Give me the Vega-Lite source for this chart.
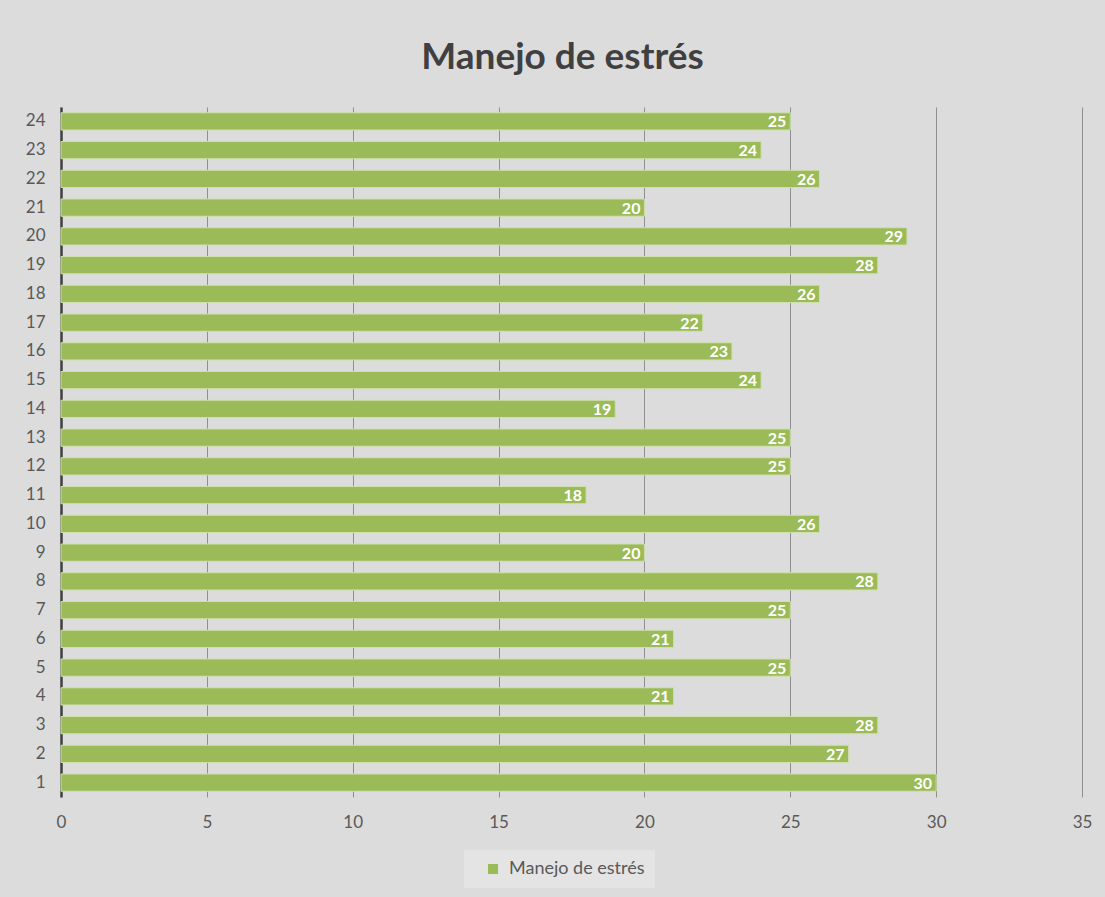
{
  "$schema": "https://vega.github.io/schema/vega-lite/v6.json",
  "autosize": "none",
  "width": 1021,
  "height": 690,
  "padding": {"left": 61, "top": 107, "right": 23, "bottom": 100},
  "background": "#dcdcdc",
  "title": {
    "text": "Manejo de estrés",
    "fontSize": 37,
    "font": "Lato",
    "fontWeight": "bold",
    "color": "#404040",
    "anchor": "middle",
    "dx": -9,
    "offset": 30
  },
  "data": {
    "values": [
      {"item": 1, "valor": 30, "serie": "Manejo de estrés"},
      {"item": 2, "valor": 27, "serie": "Manejo de estrés"},
      {"item": 3, "valor": 28, "serie": "Manejo de estrés"},
      {"item": 4, "valor": 21, "serie": "Manejo de estrés"},
      {"item": 5, "valor": 25, "serie": "Manejo de estrés"},
      {"item": 6, "valor": 21, "serie": "Manejo de estrés"},
      {"item": 7, "valor": 25, "serie": "Manejo de estrés"},
      {"item": 8, "valor": 28, "serie": "Manejo de estrés"},
      {"item": 9, "valor": 20, "serie": "Manejo de estrés"},
      {"item": 10, "valor": 26, "serie": "Manejo de estrés"},
      {"item": 11, "valor": 18, "serie": "Manejo de estrés"},
      {"item": 12, "valor": 25, "serie": "Manejo de estrés"},
      {"item": 13, "valor": 25, "serie": "Manejo de estrés"},
      {"item": 14, "valor": 19, "serie": "Manejo de estrés"},
      {"item": 15, "valor": 24, "serie": "Manejo de estrés"},
      {"item": 16, "valor": 23, "serie": "Manejo de estrés"},
      {"item": 17, "valor": 22, "serie": "Manejo de estrés"},
      {"item": 18, "valor": 26, "serie": "Manejo de estrés"},
      {"item": 19, "valor": 28, "serie": "Manejo de estrés"},
      {"item": 20, "valor": 29, "serie": "Manejo de estrés"},
      {"item": 21, "valor": 20, "serie": "Manejo de estrés"},
      {"item": 22, "valor": 26, "serie": "Manejo de estrés"},
      {"item": 23, "valor": 24, "serie": "Manejo de estrés"},
      {"item": 24, "valor": 25, "serie": "Manejo de estrés"}
    ]
  },
  "encoding": {
    "y": {
      "field": "item",
      "type": "ordinal",
      "sort": "descending",
      "scale": {"paddingInner": 0.4, "paddingOuter": 0.2},
      "axis": {
        "title": null,
        "ticks": false,
        "domain": true,
        "domainColor": "#404040",
        "domainWidth": 2.5,
        "labelPadding": 16,
        "labelFontSize": 17,
        "labelFont": "Lato",
        "labelColor": "#595959",
        "grid": false
      }
    },
    "x": {
      "field": "valor",
      "type": "quantitative",
      "scale": {"domain": [0, 35], "nice": false},
      "axis": {
        "title": null,
        "values": [0, 5, 10, 15, 20, 25, 30, 35],
        "domain": false,
        "ticks": false,
        "grid": true,
        "gridColor": "#8f8f8f",
        "gridWidth": 1,
        "labelFlush": false,
        "labelPadding": 17,
        "labelFontSize": 17,
        "labelFont": "Lato",
        "labelColor": "#595959"
      }
    }
  },
  "layer": [
    {
      "mark": {"type": "bar", "stroke": "#cfe0ad", "strokeWidth": 1},
      "encoding": {
        "color": {
          "field": "serie",
          "type": "nominal",
          "scale": {"range": ["#9bbb59"]},
          "legend": {
            "title": null,
            "orient": "none",
            "legendX": 403,
            "legendY": 743,
            "direction": "horizontal",
            "symbolType": "square",
            "symbolSize": 100,
            "symbolStrokeWidth": 0,
            "symbolOffset": 10,
            "labelFontSize": 18,
            "labelFont": "Lato",
            "labelColor": "#595959",
            "fillColor": "#e4e4e4",
            "padding": 10,
            "labelOffset": 7,
            "labelLimit": 300
          }
        }
      }
    },
    {
      "mark": {
        "type": "text",
        "align": "right",
        "baseline": "middle",
        "dx": -4,
        "dy": 1,
        "color": "white",
        "fontWeight": "bold",
        "fontSize": 16,
        "font": "Lato"
      },
      "encoding": {"text": {"field": "valor", "type": "quantitative"}}
    }
  ],
  "config": {"view": {"stroke": null}}
}
